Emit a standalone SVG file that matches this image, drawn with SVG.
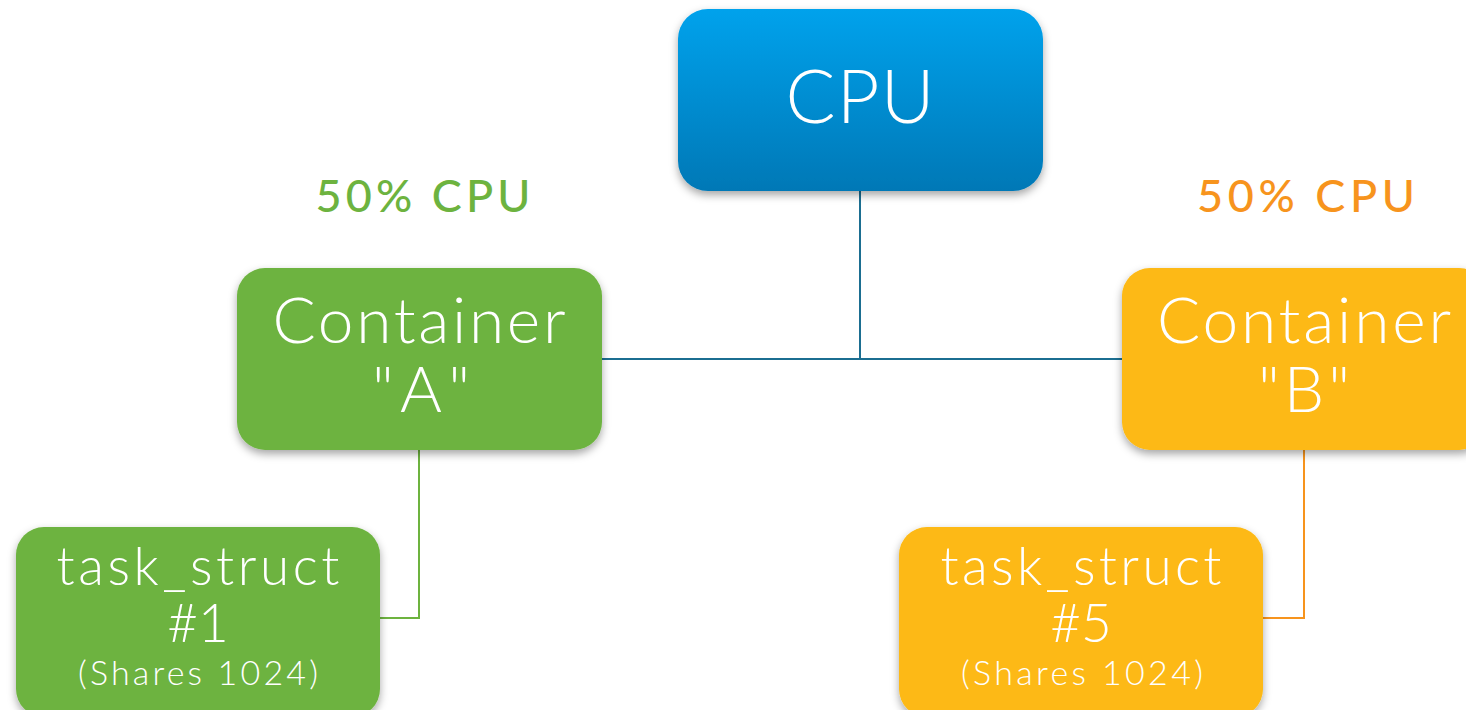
<svg xmlns="http://www.w3.org/2000/svg" width="1466" height="710" viewBox="0 0 1466 710">
  <style>
    .label { font-family: Lato, "Liberation Sans", sans-serif; fill: #ffffff; text-anchor: middle; font-weight: 300; }
    .share { font-family: Lato, "Liberation Sans", sans-serif; text-anchor: middle; font-size: 45px; font-weight: 500; }
    .link { fill: none; stroke-width: 2; }
  </style>
  <defs>
    <linearGradient id="cpuFill" x1="0" y1="0" x2="0" y2="1">
      <stop offset="0" stop-color="#00a2ec"/>
      <stop offset="1" stop-color="#0078b6"/>
    </linearGradient>
    <filter id="shadow" x="-10%" y="-10%" width="120%" height="130%">
      <feDropShadow dx="0" dy="4" stdDeviation="4" flood-color="#000000" flood-opacity="0.35"/>
    </filter>
  </defs>

  <!-- connectors -->
  <g id="connectors">
    <path class="link" stroke="#1b6e91" d="M860 191 V359 M602 359 H1122"/>
    <path class="link" stroke="#6db33f" d="M419 450 V618 H380"/>
    <path class="link" stroke="#f7941d" d="M1304 450 V618 H1263"/>
  </g>

  <g id="cpu">
    <rect x="678" y="9" width="365" height="182" rx="30" fill="url(#cpuFill)" filter="url(#shadow)"/>
    <text class="label" x="860" y="123" font-size="74" textLength="149" lengthAdjust="spacing">CPU</text>
  </g>

  <g id="share-a">
    <text class="share" x="423" y="212" fill="#6db33f" textLength="215" lengthAdjust="spacing">50% CPU</text>
  </g>
  <g id="share-b">
    <text class="share" x="1306" y="212" fill="#f7941d" textLength="218" lengthAdjust="spacing">50% CPU</text>
  </g>

  <g id="container-a">
    <rect x="237" y="268" width="365" height="182" rx="28" fill="#6db33f" filter="url(#shadow)"/>
    <text class="label" x="419" y="343" font-size="64" textLength="293" lengthAdjust="spacing">Container</text>
    <text class="label" x="421" y="412" font-size="64" textLength="98" lengthAdjust="spacing">"A"</text>
  </g>

  <g id="container-b">
    <rect x="1122" y="268" width="365" height="182" rx="28" fill="#fdb913" filter="url(#shadow)"/>
    <text class="label" x="1304" y="343" font-size="64" textLength="294" lengthAdjust="spacing">Container</text>
    <text class="label" x="1304" y="412" font-size="64" textLength="92" lengthAdjust="spacing">"B"</text>
  </g>

  <g id="task-1">
    <rect x="16" y="527" width="364" height="190" rx="28" fill="#6db33f" filter="url(#shadow)"/>
    <text class="label" x="198" y="585" font-size="53" textLength="283" lengthAdjust="spacing">task_struct</text>
    <text class="label" x="198" y="642" font-size="53">#1</text>
    <text class="label" x="198" y="685" font-size="34" textLength="240" lengthAdjust="spacing">(Shares 1024)</text>
  </g>

  <g id="task-5">
    <rect x="899" y="527" width="364" height="190" rx="28" fill="#fdb913" filter="url(#shadow)"/>
    <text class="label" x="1081" y="585" font-size="53" textLength="281" lengthAdjust="spacing">task_struct</text>
    <text class="label" x="1081" y="642" font-size="53">#5</text>
    <text class="label" x="1082" y="685" font-size="34" textLength="242" lengthAdjust="spacing">(Shares 1024)</text>
  </g>
</svg>
